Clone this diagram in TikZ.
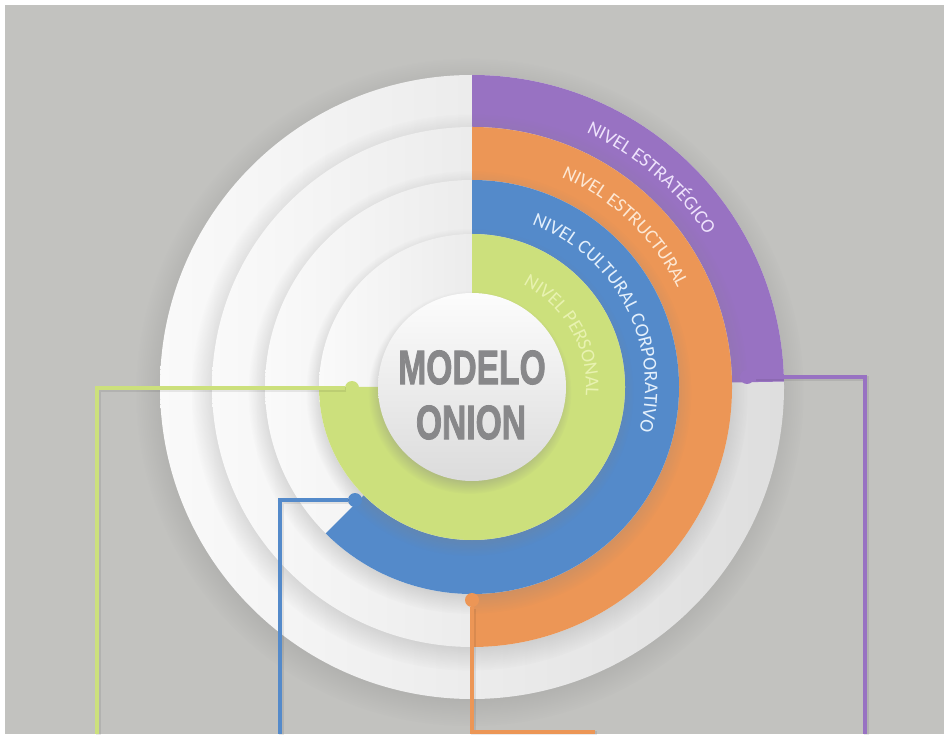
\documentclass[tikz,border=0pt]{standalone}
\usepackage{fontspec}
\setmainfont{Carlito}
\newfontfamily\titlefont{Liberation Sans Bold}[FakeBold=2.2]
\usetikzlibrary{shadows,decorations.text,calc}

\definecolor{bggray}{RGB}{194,194,191}
\definecolor{lvpurple}{RGB}{152,114,194}
\definecolor{lvorange}{RGB}{236,150,86}
\definecolor{lvblue}{RGB}{84,138,202}
\definecolor{lvgreen}{RGB}{204,224,124}
\definecolor{txpurple}{RGB}{238,226,252}
\definecolor{txorange}{RGB}{253,232,212}
\definecolor{txblue}{RGB}{228,240,252}
\definecolor{txgreen}{RGB}{232,242,176}
\definecolor{titlegray}{RGB}{136,136,138}

\newcommand{\lvlfont}{\fontsize{19.5}{19.5}\selectfont}

\tikzset{
  disc/.style={left color=white!98!black, right color=white!87!black,
    circular drop shadow={shadow scale=1.07, shadow xshift=-2pt,
      shadow yshift=-5pt, opacity=0.42}},
  core/.style={top color=white!99!black, bottom color=white!86!black,
    circular drop shadow={shadow scale=1.08, shadow xshift=-2pt,
      shadow yshift=-5pt, opacity=0.4}},
  lead/.style={line width=4.5pt},
  leadshadow/.style={line width=4.5pt, black, opacity=0.08,
    transform canvas={shift={(1.5pt,-1.5pt)}}},
  dot/.style={circle, inner sep=0pt, minimum size=14pt},
  title/.style={font=\titlefont\fontsize{48}{48}\selectfont, text=titlegray,
    inner sep=0pt, xscale=0.7},
  ringlabel/.style={decorate, decoration={text along path, text align=center, text={#1}}}
}

\begin{document}
\begin{tikzpicture}[x=1pt,y=1pt]
\useasboundingbox (0,0) rectangle (944,734);
\fill[white] (0,0) rectangle (944,734);
\fill[bggray] (5,0) rectangle (944,729);

\coordinate (c) at (472,347);

% outer ring: strategic level
\path[disc] (c) circle[radius=312];
\fill[lvpurple] (c) -- ($(c)+(90:312)$) arc[start angle=90, end angle=1, radius=312] -- cycle;

% structural level
\path[disc] (c) circle[radius=260];
\fill[lvorange] (c) -- ($(c)+(90:260)$) arc[start angle=90, end angle=-90, radius=260] -- cycle;

% corporate culture level
\path[disc] (c) circle[radius=207];
\fill[lvblue] (c) -- ($(c)+(90:207)$) arc[start angle=90, end angle=-135, radius=207] -- cycle;

% personal level
\path[disc] (c) circle[radius=153];
\fill[lvgreen] (c) -- ($(c)+(90:153)$) arc[start angle=90, end angle=-180, radius=153] -- cycle;

% core
\path[core] (c) circle[radius=94];
\node[title] (t1) at (472,366.5) {MODELO};
\node[title] (t2) at (471,311.5) {ONION};

% curved level names
\path[ringlabel={|\lvlfont\color{txpurple}|NIVEL ESTRATÉGICO}]
  ($(c)+(94.4:279)$) arc[start angle=94.4, end angle=4.4, radius=279];
\path[ringlabel={|\lvlfont\color{txorange}|NIVEL ESTRUCTURAL}]
  ($(c)+(91.3:228)$) arc[start angle=91.3, end angle=1.3, radius=228];
\path[ringlabel={|\lvlfont\color{txblue}|NIVEL CULTURAL CORPORATIVO}]
  ($(c)+(87.5:173)$) arc[start angle=87.5, end angle=-32.5, radius=173];
\path[ringlabel={|\lvlfont\color{txgreen}|NIVEL PERSONAL}]
  ($(c)+(84.5:114)$) arc[start angle=84.5, end angle=-25.5, radius=114];

% callout anchors
\node[dot, fill=lvgreen] (gdot) at (352,346) {};
\node[dot, fill=lvblue] (bdot) at (355,234) {};
\node[dot, fill=lvorange] (odot) at (472,134) {};
\node[dot, fill=lvpurple] (pdot) at (747,357) {};

\coordinate (gend) at (97,0);
\coordinate (bend) at (280,0);
\coordinate (oend) at (595,2);
\coordinate (pend) at (865,0);

% callout leads
\draw[leadshadow] (gdot) -| (gend);
\draw[leadshadow] (bdot) -| (bend);
\draw[leadshadow] (odot) |- (oend);
\draw[leadshadow] (pdot) -| (pend);
\draw[lead, lvgreen] (gdot) -| (gend);
\draw[lead, lvblue] (bdot) -| (bend);
\draw[lead, lvorange] (odot) |- (oend);
\draw[lead, lvpurple] (pdot) -| (pend);
\end{tikzpicture}
\end{document}
